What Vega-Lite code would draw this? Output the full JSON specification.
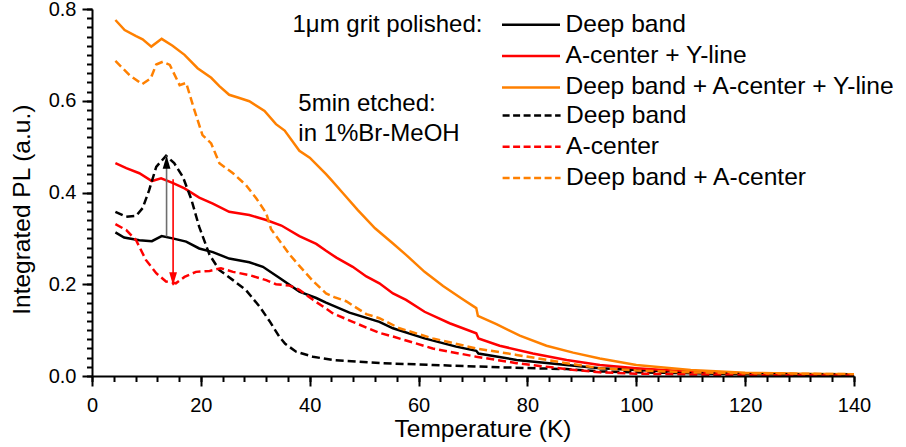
{
  "$schema": "https://vega.github.io/schema/vega-lite/v6.json",
  "width": 762,
  "height": 367,
  "autosize": {"type": "none"},
  "padding": {"left": 92, "top": 9, "right": 52, "bottom": 71},
  "config": {
    "view": {"stroke": null},
    "font": "Liberation Sans",
    "axis": {"grid": false, "domainColor": "#000000", "tickColor": "#000000", "labelColor": "black", "titleColor": "black", "labelFont": "Liberation Sans", "titleFont": "Liberation Sans", "titleFontWeight": "normal", "labelFlush": false, "zindex": 1}
  },
  "datasets": {
    "pl": [
      {"sample": "polished", "band": "Deep band", "T": 4.3, "PL": 0.313},
      {"sample": "polished", "band": "Deep band", "T": 5.9, "PL": 0.302},
      {"sample": "polished", "band": "Deep band", "T": 8.7, "PL": 0.296},
      {"sample": "polished", "band": "Deep band", "T": 11.0, "PL": 0.294},
      {"sample": "polished", "band": "Deep band", "T": 12.8, "PL": 0.305},
      {"sample": "polished", "band": "Deep band", "T": 14.8, "PL": 0.300},
      {"sample": "polished", "band": "Deep band", "T": 17.3, "PL": 0.293},
      {"sample": "polished", "band": "Deep band", "T": 19.7, "PL": 0.278},
      {"sample": "polished", "band": "Deep band", "T": 22.2, "PL": 0.270},
      {"sample": "polished", "band": "Deep band", "T": 25.2, "PL": 0.256},
      {"sample": "polished", "band": "Deep band", "T": 28.9, "PL": 0.248},
      {"sample": "polished", "band": "Deep band", "T": 31.4, "PL": 0.238},
      {"sample": "polished", "band": "Deep band", "T": 34.4, "PL": 0.214},
      {"sample": "polished", "band": "Deep band", "T": 38.1, "PL": 0.184},
      {"sample": "polished", "band": "Deep band", "T": 41.2, "PL": 0.170},
      {"sample": "polished", "band": "Deep band", "T": 43.0, "PL": 0.160},
      {"sample": "polished", "band": "Deep band", "T": 47.3, "PL": 0.138},
      {"sample": "polished", "band": "Deep band", "T": 52.8, "PL": 0.118},
      {"sample": "polished", "band": "Deep band", "T": 55.3, "PL": 0.104},
      {"sample": "polished", "band": "Deep band", "T": 61.1, "PL": 0.082},
      {"sample": "polished", "band": "Deep band", "T": 66.9, "PL": 0.064},
      {"sample": "polished", "band": "Deep band", "T": 70.6, "PL": 0.055},
      {"sample": "polished", "band": "Deep band", "T": 71.0, "PL": 0.049},
      {"sample": "polished", "band": "Deep band", "T": 78.0, "PL": 0.035},
      {"sample": "polished", "band": "Deep band", "T": 87.2, "PL": 0.024},
      {"sample": "polished", "band": "Deep band", "T": 93.3, "PL": 0.017},
      {"sample": "polished", "band": "Deep band", "T": 100, "PL": 0.013},
      {"sample": "polished", "band": "Deep band", "T": 110, "PL": 0.008},
      {"sample": "polished", "band": "Deep band", "T": 120, "PL": 0.005},
      {"sample": "polished", "band": "Deep band", "T": 130, "PL": 0.004},
      {"sample": "polished", "band": "Deep band", "T": 140, "PL": 0.003},

      {"sample": "polished", "band": "A-center + Y-line", "T": 4.3, "PL": 0.464},
      {"sample": "polished", "band": "A-center + Y-line", "T": 6.3, "PL": 0.453},
      {"sample": "polished", "band": "A-center + Y-line", "T": 8.7, "PL": 0.442},
      {"sample": "polished", "band": "A-center + Y-line", "T": 11.0, "PL": 0.425},
      {"sample": "polished", "band": "A-center + Y-line", "T": 12.7, "PL": 0.431},
      {"sample": "polished", "band": "A-center + Y-line", "T": 14.8, "PL": 0.421},
      {"sample": "polished", "band": "A-center + Y-line", "T": 17.0, "PL": 0.409},
      {"sample": "polished", "band": "A-center + Y-line", "T": 19.7, "PL": 0.389},
      {"sample": "polished", "band": "A-center + Y-line", "T": 22.2, "PL": 0.376},
      {"sample": "polished", "band": "A-center + Y-line", "T": 25.2, "PL": 0.358},
      {"sample": "polished", "band": "A-center + Y-line", "T": 28.9, "PL": 0.351},
      {"sample": "polished", "band": "A-center + Y-line", "T": 32.0, "PL": 0.340},
      {"sample": "polished", "band": "A-center + Y-line", "T": 34.8, "PL": 0.328},
      {"sample": "polished", "band": "A-center + Y-line", "T": 38.1, "PL": 0.305},
      {"sample": "polished", "band": "A-center + Y-line", "T": 41.2, "PL": 0.288},
      {"sample": "polished", "band": "A-center + Y-line", "T": 43.0, "PL": 0.273},
      {"sample": "polished", "band": "A-center + Y-line", "T": 44.9, "PL": 0.258},
      {"sample": "polished", "band": "A-center + Y-line", "T": 47.9, "PL": 0.238},
      {"sample": "polished", "band": "A-center + Y-line", "T": 50.4, "PL": 0.217},
      {"sample": "polished", "band": "A-center + Y-line", "T": 52.8, "PL": 0.202},
      {"sample": "polished", "band": "A-center + Y-line", "T": 55.3, "PL": 0.180},
      {"sample": "polished", "band": "A-center + Y-line", "T": 57.7, "PL": 0.166},
      {"sample": "polished", "band": "A-center + Y-line", "T": 61.1, "PL": 0.140},
      {"sample": "polished", "band": "A-center + Y-line", "T": 65.7, "PL": 0.115},
      {"sample": "polished", "band": "A-center + Y-line", "T": 70.6, "PL": 0.093},
      {"sample": "polished", "band": "A-center + Y-line", "T": 71.0, "PL": 0.082},
      {"sample": "polished", "band": "A-center + Y-line", "T": 74.9, "PL": 0.066},
      {"sample": "polished", "band": "A-center + Y-line", "T": 81.0, "PL": 0.049},
      {"sample": "polished", "band": "A-center + Y-line", "T": 87.2, "PL": 0.035},
      {"sample": "polished", "band": "A-center + Y-line", "T": 93.3, "PL": 0.024},
      {"sample": "polished", "band": "A-center + Y-line", "T": 100, "PL": 0.017},
      {"sample": "polished", "band": "A-center + Y-line", "T": 110, "PL": 0.009},
      {"sample": "polished", "band": "A-center + Y-line", "T": 120, "PL": 0.005},
      {"sample": "polished", "band": "A-center + Y-line", "T": 130, "PL": 0.003},
      {"sample": "polished", "band": "A-center + Y-line", "T": 140, "PL": 0.002},

      {"sample": "polished", "band": "Deep band + A-center + Y-line", "T": 4.3, "PL": 0.776},
      {"sample": "polished", "band": "Deep band + A-center + Y-line", "T": 6.0, "PL": 0.754},
      {"sample": "polished", "band": "Deep band + A-center + Y-line", "T": 8.1, "PL": 0.741},
      {"sample": "polished", "band": "Deep band + A-center + Y-line", "T": 9.3, "PL": 0.734},
      {"sample": "polished", "band": "Deep band + A-center + Y-line", "T": 10.9, "PL": 0.718},
      {"sample": "polished", "band": "Deep band + A-center + Y-line", "T": 12.8, "PL": 0.735},
      {"sample": "polished", "band": "Deep band + A-center + Y-line", "T": 14.8, "PL": 0.720},
      {"sample": "polished", "band": "Deep band + A-center + Y-line", "T": 17.0, "PL": 0.700},
      {"sample": "polished", "band": "Deep band + A-center + Y-line", "T": 19.4, "PL": 0.671},
      {"sample": "polished", "band": "Deep band + A-center + Y-line", "T": 21.9, "PL": 0.650},
      {"sample": "polished", "band": "Deep band + A-center + Y-line", "T": 23.4, "PL": 0.632},
      {"sample": "polished", "band": "Deep band + A-center + Y-line", "T": 25.2, "PL": 0.613},
      {"sample": "polished", "band": "Deep band + A-center + Y-line", "T": 26.8, "PL": 0.607},
      {"sample": "polished", "band": "Deep band + A-center + Y-line", "T": 28.9, "PL": 0.599},
      {"sample": "polished", "band": "Deep band + A-center + Y-line", "T": 31.7, "PL": 0.578},
      {"sample": "polished", "band": "Deep band + A-center + Y-line", "T": 33.8, "PL": 0.549},
      {"sample": "polished", "band": "Deep band + A-center + Y-line", "T": 35.4, "PL": 0.535},
      {"sample": "polished", "band": "Deep band + A-center + Y-line", "T": 38.1, "PL": 0.491},
      {"sample": "polished", "band": "Deep band + A-center + Y-line", "T": 40.0, "PL": 0.476},
      {"sample": "polished", "band": "Deep band + A-center + Y-line", "T": 43.0, "PL": 0.440},
      {"sample": "polished", "band": "Deep band + A-center + Y-line", "T": 44.0, "PL": 0.427},
      {"sample": "polished", "band": "Deep band + A-center + Y-line", "T": 46.0, "PL": 0.400},
      {"sample": "polished", "band": "Deep band + A-center + Y-line", "T": 48.8, "PL": 0.362},
      {"sample": "polished", "band": "Deep band + A-center + Y-line", "T": 52.0, "PL": 0.322},
      {"sample": "polished", "band": "Deep band + A-center + Y-line", "T": 55.3, "PL": 0.289},
      {"sample": "polished", "band": "Deep band + A-center + Y-line", "T": 57.7, "PL": 0.264},
      {"sample": "polished", "band": "Deep band + A-center + Y-line", "T": 61.1, "PL": 0.227},
      {"sample": "polished", "band": "Deep band + A-center + Y-line", "T": 64.5, "PL": 0.196},
      {"sample": "polished", "band": "Deep band + A-center + Y-line", "T": 67.9, "PL": 0.169},
      {"sample": "polished", "band": "Deep band + A-center + Y-line", "T": 70.6, "PL": 0.148},
      {"sample": "polished", "band": "Deep band + A-center + Y-line", "T": 70.9, "PL": 0.131},
      {"sample": "polished", "band": "Deep band + A-center + Y-line", "T": 74.3, "PL": 0.113},
      {"sample": "polished", "band": "Deep band + A-center + Y-line", "T": 78.6, "PL": 0.088},
      {"sample": "polished", "band": "Deep band + A-center + Y-line", "T": 83.5, "PL": 0.066},
      {"sample": "polished", "band": "Deep band + A-center + Y-line", "T": 88.4, "PL": 0.051},
      {"sample": "polished", "band": "Deep band + A-center + Y-line", "T": 93.3, "PL": 0.038},
      {"sample": "polished", "band": "Deep band + A-center + Y-line", "T": 100, "PL": 0.024},
      {"sample": "polished", "band": "Deep band + A-center + Y-line", "T": 110, "PL": 0.013},
      {"sample": "polished", "band": "Deep band + A-center + Y-line", "T": 120, "PL": 0.007},
      {"sample": "polished", "band": "Deep band + A-center + Y-line", "T": 130, "PL": 0.005},
      {"sample": "polished", "band": "Deep band + A-center + Y-line", "T": 140, "PL": 0.004},

      {"sample": "etched", "band": "Deep band", "T": 4.3, "PL": 0.358},
      {"sample": "etched", "band": "Deep band", "T": 6.3, "PL": 0.347},
      {"sample": "etched", "band": "Deep band", "T": 8.1, "PL": 0.349},
      {"sample": "etched", "band": "Deep band", "T": 9.3, "PL": 0.366},
      {"sample": "etched", "band": "Deep band", "T": 10.5, "PL": 0.405},
      {"sample": "etched", "band": "Deep band", "T": 11.8, "PL": 0.456},
      {"sample": "etched", "band": "Deep band", "T": 13.6, "PL": 0.480},
      {"sample": "etched", "band": "Deep band", "T": 15.1, "PL": 0.464},
      {"sample": "etched", "band": "Deep band", "T": 16.7, "PL": 0.434},
      {"sample": "etched", "band": "Deep band", "T": 18.2, "PL": 0.387},
      {"sample": "etched", "band": "Deep band", "T": 19.7, "PL": 0.325},
      {"sample": "etched", "band": "Deep band", "T": 21.6, "PL": 0.264},
      {"sample": "etched", "band": "Deep band", "T": 23.4, "PL": 0.231},
      {"sample": "etched", "band": "Deep band", "T": 25.9, "PL": 0.209},
      {"sample": "etched", "band": "Deep band", "T": 28.3, "PL": 0.187},
      {"sample": "etched", "band": "Deep band", "T": 30.8, "PL": 0.151},
      {"sample": "etched", "band": "Deep band", "T": 32.6, "PL": 0.120},
      {"sample": "etched", "band": "Deep band", "T": 34.4, "PL": 0.086},
      {"sample": "etched", "band": "Deep band", "T": 35.5, "PL": 0.070},
      {"sample": "etched", "band": "Deep band", "T": 37.5, "PL": 0.053},
      {"sample": "etched", "band": "Deep band", "T": 40.6, "PL": 0.042},
      {"sample": "etched", "band": "Deep band", "T": 44.2, "PL": 0.035},
      {"sample": "etched", "band": "Deep band", "T": 46.7, "PL": 0.033},
      {"sample": "etched", "band": "Deep band", "T": 53.4, "PL": 0.028},
      {"sample": "etched", "band": "Deep band", "T": 62.6, "PL": 0.024},
      {"sample": "etched", "band": "Deep band", "T": 74.9, "PL": 0.019},
      {"sample": "etched", "band": "Deep band", "T": 87.2, "PL": 0.015},
      {"sample": "etched", "band": "Deep band", "T": 93.3, "PL": 0.010},
      {"sample": "etched", "band": "Deep band", "T": 100, "PL": 0.008},
      {"sample": "etched", "band": "Deep band", "T": 120, "PL": 0.004},
      {"sample": "etched", "band": "Deep band", "T": 140, "PL": 0.003},

      {"sample": "etched", "band": "A-center", "T": 4.3, "PL": 0.331},
      {"sample": "etched", "band": "A-center", "T": 6.3, "PL": 0.318},
      {"sample": "etched", "band": "A-center", "T": 8.1, "PL": 0.296},
      {"sample": "etched", "band": "A-center", "T": 9.9, "PL": 0.253},
      {"sample": "etched", "band": "A-center", "T": 11.8, "PL": 0.224},
      {"sample": "etched", "band": "A-center", "T": 13.6, "PL": 0.206},
      {"sample": "etched", "band": "A-center", "T": 15.4, "PL": 0.202},
      {"sample": "etched", "band": "A-center", "T": 17.0, "PL": 0.216},
      {"sample": "etched", "band": "A-center", "T": 19.1, "PL": 0.227},
      {"sample": "etched", "band": "A-center", "T": 21.6, "PL": 0.229},
      {"sample": "etched", "band": "A-center", "T": 23.7, "PL": 0.235},
      {"sample": "etched", "band": "A-center", "T": 25.9, "PL": 0.227},
      {"sample": "etched", "band": "A-center", "T": 28.9, "PL": 0.220},
      {"sample": "etched", "band": "A-center", "T": 32.0, "PL": 0.209},
      {"sample": "etched", "band": "A-center", "T": 33.8, "PL": 0.200},
      {"sample": "etched", "band": "A-center", "T": 36.3, "PL": 0.197},
      {"sample": "etched", "band": "A-center", "T": 38.1, "PL": 0.188},
      {"sample": "etched", "band": "A-center", "T": 40.6, "PL": 0.166},
      {"sample": "etched", "band": "A-center", "T": 43.0, "PL": 0.147},
      {"sample": "etched", "band": "A-center", "T": 44.2, "PL": 0.137},
      {"sample": "etched", "band": "A-center", "T": 47.9, "PL": 0.118},
      {"sample": "etched", "band": "A-center", "T": 52.8, "PL": 0.094},
      {"sample": "etched", "band": "A-center", "T": 55.3, "PL": 0.086},
      {"sample": "etched", "band": "A-center", "T": 62.6, "PL": 0.060},
      {"sample": "etched", "band": "A-center", "T": 70.6, "PL": 0.042},
      {"sample": "etched", "band": "A-center", "T": 78.0, "PL": 0.028},
      {"sample": "etched", "band": "A-center", "T": 87.2, "PL": 0.015},
      {"sample": "etched", "band": "A-center", "T": 93.3, "PL": 0.008},
      {"sample": "etched", "band": "A-center", "T": 100, "PL": 0.005},
      {"sample": "etched", "band": "A-center", "T": 120, "PL": 0.002},
      {"sample": "etched", "band": "A-center", "T": 140, "PL": 0.001},

      {"sample": "etched", "band": "Deep band + A-center", "T": 4.3, "PL": 0.687},
      {"sample": "etched", "band": "Deep band + A-center", "T": 6.9, "PL": 0.656},
      {"sample": "etched", "band": "Deep band + A-center", "T": 9.2, "PL": 0.636},
      {"sample": "etched", "band": "Deep band + A-center", "T": 10.8, "PL": 0.649},
      {"sample": "etched", "band": "Deep band + A-center", "T": 11.8, "PL": 0.679},
      {"sample": "etched", "band": "Deep band + A-center", "T": 13.0, "PL": 0.685},
      {"sample": "etched", "band": "Deep band + A-center", "T": 14.3, "PL": 0.678},
      {"sample": "etched", "band": "Deep band + A-center", "T": 16.1, "PL": 0.634},
      {"sample": "etched", "band": "Deep band + A-center", "T": 17.3, "PL": 0.639},
      {"sample": "etched", "band": "Deep band + A-center", "T": 18.8, "PL": 0.580},
      {"sample": "etched", "band": "Deep band + A-center", "T": 20.3, "PL": 0.525},
      {"sample": "etched", "band": "Deep band + A-center", "T": 21.9, "PL": 0.507},
      {"sample": "etched", "band": "Deep band + A-center", "T": 23.4, "PL": 0.464},
      {"sample": "etched", "band": "Deep band + A-center", "T": 25.9, "PL": 0.442},
      {"sample": "etched", "band": "Deep band + A-center", "T": 28.3, "PL": 0.416},
      {"sample": "etched", "band": "Deep band + A-center", "T": 30.2, "PL": 0.387},
      {"sample": "etched", "band": "Deep band + A-center", "T": 32.0, "PL": 0.355},
      {"sample": "etched", "band": "Deep band + A-center", "T": 32.9, "PL": 0.320},
      {"sample": "etched", "band": "Deep band + A-center", "T": 35.0, "PL": 0.286},
      {"sample": "etched", "band": "Deep band + A-center", "T": 36.5, "PL": 0.262},
      {"sample": "etched", "band": "Deep band + A-center", "T": 38.1, "PL": 0.240},
      {"sample": "etched", "band": "Deep band + A-center", "T": 40.6, "PL": 0.207},
      {"sample": "etched", "band": "Deep band + A-center", "T": 43.0, "PL": 0.180},
      {"sample": "etched", "band": "Deep band + A-center", "T": 44.5, "PL": 0.172},
      {"sample": "etched", "band": "Deep band + A-center", "T": 46.7, "PL": 0.163},
      {"sample": "etched", "band": "Deep band + A-center", "T": 50.4, "PL": 0.135},
      {"sample": "etched", "band": "Deep band + A-center", "T": 52.8, "PL": 0.126},
      {"sample": "etched", "band": "Deep band + A-center", "T": 56.5, "PL": 0.104},
      {"sample": "etched", "band": "Deep band + A-center", "T": 62.6, "PL": 0.082},
      {"sample": "etched", "band": "Deep band + A-center", "T": 70.6, "PL": 0.060},
      {"sample": "etched", "band": "Deep band + A-center", "T": 78.0, "PL": 0.046},
      {"sample": "etched", "band": "Deep band + A-center", "T": 87.2, "PL": 0.028},
      {"sample": "etched", "band": "Deep band + A-center", "T": 93.3, "PL": 0.017},
      {"sample": "etched", "band": "Deep band + A-center", "T": 100, "PL": 0.012},
      {"sample": "etched", "band": "Deep band + A-center", "T": 110, "PL": 0.008},
      {"sample": "etched", "band": "Deep band + A-center", "T": 120, "PL": 0.006},
      {"sample": "etched", "band": "Deep band + A-center", "T": 140, "PL": 0.004}
    ],
    "arrows": [
      {"dir": "up", "T": 13.7, "from": 0.304, "to": 0.48},
      {"dir": "down", "T": 14.9, "from": 0.429, "to": 0.198}
    ]
  },
  "layer": [
    {
      "data": {"name": "pl"},
      "transform": [{"filter": "datum.sample === 'polished'"}],
      "mark": {"type": "line", "strokeWidth": 2.5},
      "encoding": {
        "x": {"field": "T", "type": "quantitative", "scale": {"domain": [0, 140], "nice": false, "zero": false},
          "axis": {"orient": "bottom", "zindex": 1, "values": [0, 20, 40, 60, 80, 100, 120, 140], "format": "d", "labelFlush": false, "tickSize": 10, "tickWidth": 2, "domainWidth": 2, "labelFontSize": 20, "labelPadding": 9,
            "title": "Temperature (K)", "titleFontSize": 24.5, "titleX": 390.5, "titleY": 60.7, "titleAlign": "center", "titleBaseline": "alphabetic"}},
        "y": {"field": "PL", "type": "quantitative", "scale": {"domain": [0, 0.8], "nice": false, "zero": false},
          "axis": {"orient": "left", "zindex": 1, "values": [0, 0.2, 0.4, 0.6, 0.8], "format": ".1f", "labelFlush": false, "tickSize": 10, "tickWidth": 2, "domainWidth": 2, "labelFontSize": 20, "labelPadding": 6,
            "title": "Integrated PL (a.u.)", "titleFontSize": 24.5, "titleAngle": 270, "titleX": -62.5, "titleY": 200.2, "titleAlign": "center", "titleBaseline": "alphabetic"}},
        "color": {"field": "band", "type": "nominal",
          "scale": {"domain": ["Deep band", "A-center + Y-line", "Deep band + A-center + Y-line"], "range": ["#000000", "#ff0000", "#ff8000"]},
          "legend": {"orient": "none", "legendX": 200.5, "legendY": 3.8, "padding": 0, "offset": 0,
            "title": "1μm grit polished:", "titleOrient": "left", "titleAnchor": "start", "titleBaseline": "top", "titlePadding": 18, "titleFont": "Liberation Sans", "titleFontSize": 24, "titleFontWeight": "normal", "titleColor": "black", "titleLimit": 400,
            "labelFont": "Liberation Sans", "labelFontSize": 24.6, "labelColor": "black", "labelLimit": 500, "labelOffset": 4,
            "symbolType": "stroke", "symbolSize": 3364, "symbolStrokeWidth": 2.5, "clipHeight": 24, "rowPadding": 6.3}}
      }
    },
    {
      "data": {"name": "pl"},
      "transform": [{"filter": "datum.sample === 'etched'"}],
      "mark": {"type": "line", "strokeWidth": 2.5, "strokeDash": [8, 4]},
      "encoding": {
        "x": {"field": "T", "type": "quantitative", "axis": null},
        "y": {"field": "PL", "type": "quantitative", "axis": null},
        "stroke": {"field": "band", "type": "nominal",
          "scale": {"domain": ["Deep band", "A-center", "Deep band + A-center"], "range": ["#000000", "#ff0000", "#ff8000"]},
          "legend": {"orient": "none", "legendX": 206.3, "legendY": 94.5, "padding": 0, "offset": 0,
            "title": ["5min etched:", "in 1%Br-MeOH"], "titleOrient": "left", "titleAnchor": "start", "titleBaseline": "middle", "titleLineHeight": 30, "titlePadding": 40.8, "titleFont": "Liberation Sans", "titleFontSize": 24, "titleFontWeight": "normal", "titleColor": "black", "titleLimit": 400,
            "labelFont": "Liberation Sans", "labelFontSize": 24.6, "labelColor": "black", "labelLimit": 500, "labelOffset": 4,
            "symbolType": "stroke", "symbolSize": 3364, "symbolStrokeWidth": 2.5, "symbolDash": [7, 3.5], "clipHeight": 24, "rowPadding": 6.3}}
      }
    },
    {
      "data": {"name": "arrows"},
      "transform": [{"filter": "datum.dir === 'up'"}],
      "mark": {"type": "rule", "color": "#6e6e6e", "strokeWidth": 1.6},
      "encoding": {
        "x": {"field": "T", "type": "quantitative",
          "axis": {"orient": "bottom", "zindex": 1, "values": [0, 4, 8, 12, 16, 20, 24, 28, 32, 36, 40, 44, 48, 52, 56, 60, 64, 68, 72, 76, 80, 84, 88, 92, 96, 100, 104, 108, 112, 116, 120, 124, 128, 132, 136, 140], "tickSize": 5.5, "tickWidth": 2, "domain": false, "labels": false, "title": null}},
        "y": {"field": "from", "type": "quantitative",
          "axis": {"orient": "left", "zindex": 1, "values": [0, 0.02, 0.04, 0.06, 0.08, 0.1, 0.12, 0.14, 0.16, 0.18, 0.2, 0.22, 0.24, 0.26, 0.28, 0.3, 0.32, 0.34, 0.36, 0.38, 0.4, 0.42, 0.44, 0.46, 0.48, 0.5, 0.52, 0.54, 0.56, 0.58, 0.6, 0.62, 0.64, 0.66, 0.68, 0.7, 0.72, 0.74, 0.76, 0.78, 0.8], "tickSize": 5.5, "tickWidth": 2, "domain": false, "labels": false, "title": null}},
        "y2": {"field": "to"}
      }
    },
    {
      "data": {"name": "arrows"},
      "transform": [{"filter": "datum.dir === 'down'"}],
      "mark": {"type": "rule", "color": "#ff0000", "strokeWidth": 1.6},
      "encoding": {
        "x": {"field": "T", "type": "quantitative", "axis": null},
        "y": {"field": "from", "type": "quantitative", "axis": null},
        "y2": {"field": "to"}
      }
    },
    {
      "data": {"name": "arrows"},
      "transform": [{"filter": "datum.dir === 'up'"}],
      "mark": {"type": "point", "shape": "M0,0L-0.3,1L0.3,1Z", "size": 676, "filled": true, "color": "#000000", "opacity": 1, "strokeWidth": 0},
      "encoding": {
        "x": {"field": "T", "type": "quantitative", "axis": null},
        "y": {"field": "to", "type": "quantitative", "axis": null}
      }
    },
    {
      "data": {"name": "arrows"},
      "transform": [{"filter": "datum.dir === 'down'"}],
      "mark": {"type": "point", "shape": "M0,0L-0.3,-1L0.3,-1Z", "size": 676, "filled": true, "color": "#ff0000", "opacity": 1, "strokeWidth": 0},
      "encoding": {
        "x": {"field": "T", "type": "quantitative", "axis": null},
        "y": {"field": "to", "type": "quantitative", "axis": null}
      }
    }
  ],
  "resolve": {"axis": {"x": "independent", "y": "independent"}}
}
